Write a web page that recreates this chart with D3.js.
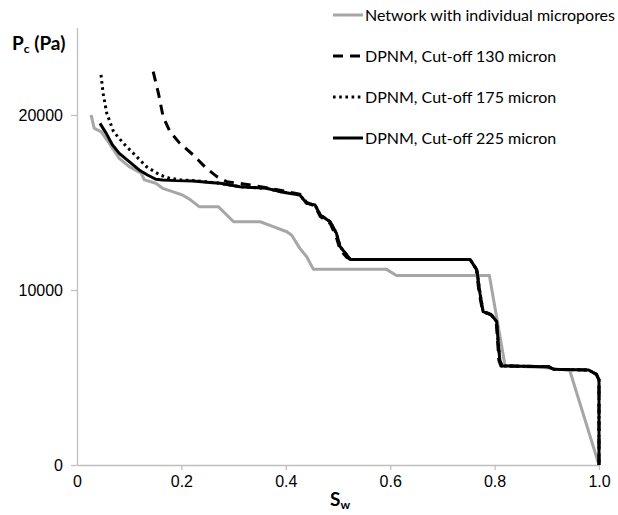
<!DOCTYPE html>
<meta charset="utf-8">
<head>
<style>
  body { margin: 0; background: #fff; }
  .tick text { font-family: 'Liberation Sans', Arial, sans-serif; font-size: 16px; fill: #000; }
  .legend text { font-family: Lato, 'Open Sans', sans-serif; font-size: 16px; fill: #000; }
  .title { font-family: Lato, 'Open Sans', sans-serif; font-weight: bold; font-size: 19px; fill: #000; }
</style>
</head>
<body>
<div id="chart"></div>
<script src="https://d3js.org/d3.v7.min.js"></script>
<script>

// series data (Sw, Pc in Pa)
var networkSw = [0.027,0.033,0.046,0.062,0.081,0.100,0.123,0.129,0.151,0.164,0.183,0.202,0.218,0.234,0.271,0.300,0.351,0.376,0.402,0.411,0.427,0.440,0.453,0.593,0.612,0.790,0.820,0.900,0.944,1.0];
var networkPc = [20000,19240,19050,18380,17520,17050,16670,16290,16100,15810,15620,15430,15140,14760,14760,13900,13900,13620,13330,13140,12380,11900,11180,11180,10830,10830,5680,5550,5400,0];

var cut130Sw = [0.146,0.156,0.165,0.178,0.197,0.223,0.248,0.268,0.287,0.319,0.363,0.389,0.427,0.440,0.456,0.466,0.485,0.497,0.504,0.517,0.527,0.753,0.765,0.770,0.777,0.793,0.803,0.806,0.808,0.812,0.903,0.913,0.980,0.995,1.0,1.0];
var cut130Pc = [22480,21240,19900,19050,18380,17710,16950,16480,16190,16060,15850,15700,15480,15000,14800,14200,13800,13000,12300,11850,11750,11750,11200,9900,8800,8600,8200,7000,6000,5660,5620,5470,5430,5180,4860,0];

var cut175Sw = [0.046,0.050,0.057,0.070,0.089,0.108,0.133,0.159,0.178,0.200,0.222,0.260,0.274,0.312,0.363,0.389,0.427,0.440,0.456,0.466,0.485,0.497,0.504,0.517,0.523,0.753,0.766,0.772,0.778,0.794,0.804,0.807,0.810,0.814,0.903,0.913,0.980,0.995,1.0,1.0];
var cut175Pc = [22290,21240,20100,19050,18380,17810,17050,16570,16380,16290,16250,16150,16100,15900,15810,15620,15430,14950,14860,14290,13900,13240,12480,12000,11750,11750,11140,9810,8760,8570,8190,6950,6000,5660,5620,5470,5430,5180,4860,0];

var cut225Sw = [0.044,0.056,0.068,0.081,0.100,0.119,0.135,0.151,0.164,0.190,0.222,0.260,0.274,0.312,0.363,0.389,0.427,0.440,0.456,0.466,0.485,0.497,0.504,0.517,0.523,0.753,0.766,0.772,0.778,0.794,0.804,0.807,0.810,0.814,0.903,0.913,0.980,0.995,1.0,1.0];
var cut225Pc = [19520,18950,18290,17810,17330,16860,16570,16330,16290,16250,16230,16130,16100,15900,15810,15620,15430,14950,14860,14290,13900,13240,12480,12000,11750,11750,11140,9810,8760,8570,8190,6950,6000,5660,5620,5470,5430,5180,4860,0];

var legendLabels = ["Network with individual micropores", "DPNM, Cut-off 130 micron", "DPNM, Cut-off 175 micron", "DPNM, Cut-off 225 micron"];
var xTicks = [0, 0.2, 0.4, 0.6, 0.8, 1.0];
var xTickLabels = ["0", "0.2", "0.4", "0.6", "0.8", "1.0"];
var yTicks = [0, 10000, 20000];

var margin = {top: 27.5, right: 19, bottom: 50, left: 77},
  width = 618 - margin.left - margin.right,
  height = 515 - margin.top - margin.bottom;

var svg = d3.select("#chart").append("svg")
  .attr("width", 618)
  .attr("height", 515);

var g = svg.append("g")
  .attr("transform", "translate(" + margin.left + "," + margin.top + ")");

var x = d3.scaleLinear().domain([0, 1]).range([0, width]);
var y = d3.scaleLinear().domain([0, 25000]).range([height, 0]);

// axes
var xAxis = g.append("g")
  .attr("transform", "translate(0," + height + ")")
  .call(d3.axisBottom(x).tickValues(xTicks).tickSize(5).tickSizeOuter(0)
    .tickFormat(function(d, i) { return xTickLabels[i]; }));
xAxis.selectAll(".tick text").attr("dy", "0.9em");

var yAxis = g.append("g")
  .call(d3.axisLeft(y).tickValues(yTicks).tickSize(6).tickSizeOuter(0).tickPadding(8)
    .tickFormat(d3.format("d")));

g.selectAll(".domain").attr("stroke", "#bfbfbf").attr("stroke-width", 1.3);
g.selectAll(".tick line").attr("stroke", "#bfbfbf").attr("stroke-width", 1.3);
xAxis.select(".tick line").remove();

function zipped(sw, pc) {
  return sw.map(function(d, i) { return [d, pc[i]]; });
}

var line = d3.line()
  .x(function(d) { return x(d[0]); })
  .y(function(d) { return y(d[1]); });

var series = [
  {data: zipped(networkSw, networkPc), color: "#a6a6a6", dash: null},
  {data: zipped(cut175Sw, cut175Pc), color: "#000", dash: "2.6,3.6"},
  {data: zipped(cut225Sw, cut225Pc), color: "#000", dash: null},
  {data: zipped(cut130Sw, cut130Pc), color: "#000", dash: "10,7"}
];

g.selectAll(".series")
  .data(series)
  .enter()
  .append("path")
    .attr("class", "series")
    .attr("d", function(d) { return line(d.data); })
    .attr("fill", "none")
    .attr("stroke", function(d) { return d.color; })
    .attr("stroke-width", 3)
    .attr("stroke-linejoin", "round")
    .attr("stroke-dasharray", function(d) { return d.dash; });

// legend
var legendStyles = [
  {color: "#a6a6a6", dash: null},
  {color: "#000", dash: "10,7"},
  {color: "#000", dash: "2.6,3.6"},
  {color: "#000", dash: null}
];
var legend = svg.append("g").attr("class", "legend")
  .attr("transform", "translate(333,15)");
legendLabels.forEach(function(lbl, i) {
  var row = legend.append("g").attr("transform", "translate(0," + (i * 41) + ")");
  row.append("line")
    .attr("x1", 0).attr("x2", 30).attr("y1", 0).attr("y2", 0)
    .attr("stroke", legendStyles[i].color)
    .attr("stroke-width", 3)
    .attr("stroke-dasharray", legendStyles[i].dash);
  row.append("text")
    .attr("x", 32).attr("y", 5.5)
    .text(lbl);
});

// axis titles
var yt = svg.append("text").attr("class", "title")
  .attr("x", 12).attr("y", 50);
yt.append("tspan").text("P");
yt.append("tspan").attr("font-size", "12px").attr("dy", 3).text("c");
yt.append("tspan").attr("dy", -3).text(" (Pa)");

var xt = svg.append("text").attr("class", "title")
  .attr("x", 330).attr("y", 506);
xt.append("tspan").text("S");
xt.append("tspan").attr("font-size", "12px").attr("dy", 3).text("w");

</script>
</body>
